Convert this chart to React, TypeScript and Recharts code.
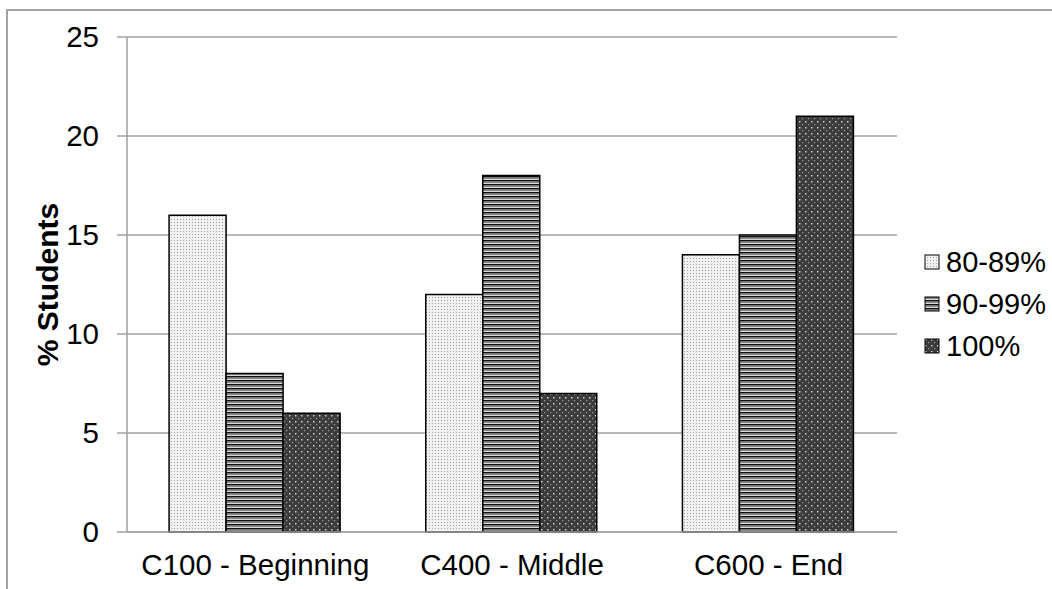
import { BarChart, Bar, XAxis, YAxis, CartesianGrid, Legend, Label } from "recharts";

const CATEGORIES = ["C100 - Beginning", "C400 - Middle", "C600 - End"];
const SERIES_NAMES = ["80-89%", "90-99%", "100%"];
const LOW_BAND = [16, 12, 14];
const MID_BAND = [8, 18, 15];
const TOP_BAND = [6, 7, 21];
const Y_TICKS = [0, 5, 10, 15, 20, 25];

const PATTERN_IDS = ["pat-dots-light", "pat-stripes", "pat-dots-dark"];
const SERIES_VALUES = [LOW_BAND, MID_BAND, TOP_BAND];

const FONT = "'Liberation Sans', Arial, sans-serif";

const data = CATEGORIES.map((name, i) => {
  const row: Record<string, string | number> = { name };
  SERIES_NAMES.forEach((s, j) => {
    row[s] = SERIES_VALUES[j][i];
  });
  return row;
});

function Patterns() {
  return (
    <defs>
      <pattern id="pat-dots-light" width="3" height="3" patternUnits="userSpaceOnUse">
        <rect width="3" height="3" fill="#eeeeee" />
        <rect x="0" y="0" width="1" height="1" fill="#a8a8a8" />
        <rect x="1.5" y="1.5" width="1" height="1" fill="#ffffff" />
      </pattern>
      <pattern id="pat-stripes" width="4" height="4" patternUnits="userSpaceOnUse">
        <rect width="4" height="4" fill="#8a8a8a" />
        <rect x="0" y="0" width="4" height="1.2" fill="#111111" />
        <rect x="0" y="3" width="4" height="1" fill="#d8d8d8" />
      </pattern>
      <pattern id="pat-dots-dark" width="6" height="6" patternUnits="userSpaceOnUse">
        <rect width="6" height="6" fill="#3c3c3c" />
        <rect x="1" y="1" width="1.5" height="1.5" fill="#d0d0d0" />
        <rect x="4" y="4" width="1.2" height="1.2" fill="#9a9a9a" />
      </pattern>
    </defs>
  );
}

function LegendBox() {
  return (
    <div style={{ fontFamily: FONT, fontSize: 29, color: "#000" }}>
      {SERIES_NAMES.map((s, i) => (
        <div key={s} style={{ display: "flex", alignItems: "center", height: 42 }}>
          <svg width={16} height={16} style={{ marginRight: 6 }}>
            <rect x={1} y={1} width={14} height={14} fill={`url(#${PATTERN_IDS[i]})`} stroke="#000" strokeWidth={1} />
          </svg>
          <span>{s}</span>
        </div>
      ))}
    </div>
  );
}

export default function App() {
  return (
    <div
      style={{
        position: "fixed",
        left: 0,
        top: 0,
        width: 1052,
        height: 589,
        overflow: "hidden",
        background: "#fff",
      }}
    >
      <div
        style={{
          position: "absolute",
          left: 6,
          top: 9,
          width: 1200,
          height: 800,
          border: "2px solid #a3a3a3",
        }}
      />
      <div style={{ position: "absolute", left: 0, top: 0 }}>
        <BarChart
          width={1052}
          height={589}
          data={data}
          margin={{ top: 37, right: 155, left: 0, bottom: 0 }}
          barCategoryGap="16.4%"
          barGap={0}
        >
          <Patterns />
          <CartesianGrid vertical={false} stroke="#a0a0a0" strokeWidth={1.5} />
          <XAxis
            dataKey="name"
            height={57}
            tickLine={false}
            tickSize={0}
            tickMargin={22}
            axisLine={{ stroke: "#a0a0a0", strokeWidth: 1.5 }}
            tick={{ fontSize: 29.5, fill: "#000", fontFamily: FONT }}
            interval={0}
          />
          <YAxis
            width={127}
            domain={[0, 25]}
            ticks={Y_TICKS}
            tickSize={10}
            tickMargin={18}
            tickLine={{ stroke: "#a0a0a0", strokeWidth: 1.5 }}
            axisLine={{ stroke: "#a0a0a0", strokeWidth: 1.5 }}
            tick={{ fontSize: 29.5, fill: "#000", fontFamily: FONT }}
          >
            <Label
              content={({ viewBox }: any) => {
                const cx = viewBox.x + 47;
                const cy = viewBox.y + viewBox.height / 2;
                return (
                  <text
                    x={cx}
                    y={cy}
                    transform={`rotate(-90, ${cx}, ${cy})`}
                    textAnchor="middle"
                    dominantBaseline="central"
                    fontSize={30}
                    fontWeight="bold"
                    fontFamily={FONT}
                    fill="#000"
                  >
                    % Students
                  </text>
                );
              }}
            />
          </YAxis>
          <Legend
            layout="horizontal"
            verticalAlign="middle"
            align="center"
            content={() => <LegendBox />}
            wrapperStyle={{ left: 924, top: 241, width: 128 }}
          />
          {SERIES_NAMES.map((s, i) => (
            <Bar
              key={s}
              dataKey={s}
              fill={`url(#${PATTERN_IDS[i]})`}
              stroke="#000"
              strokeWidth={1.5}
              isAnimationActive={false}
            />
          ))}
        </BarChart>
      </div>
    </div>
  );
}
